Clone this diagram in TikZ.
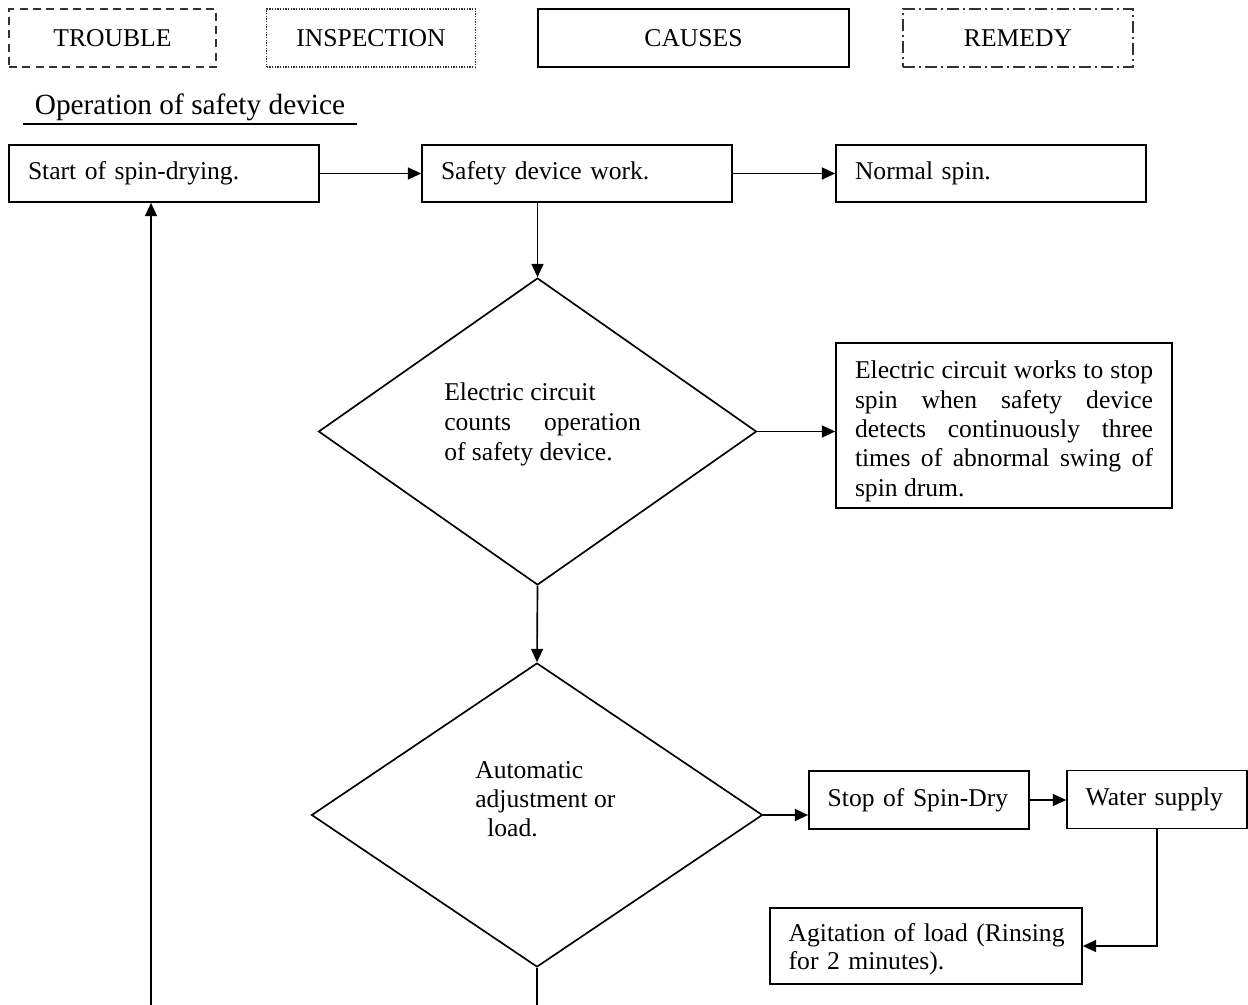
\documentclass[tikz,border=0pt]{standalone}
\usepackage{fontspec}
\setmainfont{Liberation Serif}
\usetikzlibrary{arrows.meta,shapes.geometric,calc}

\newcommand{\nohy}{\hyphenpenalty=10000\relax\exhyphenpenalty=10000\relax}

\begin{document}
\begin{tikzpicture}[x=0.75pt,y=0.75pt,yscale=-1,xscale=1,
  every node/.style={font=\fontsize{19.2}{22}\selectfont\nohy},
  box/.style={draw, line width=1.25pt, inner xsep=14.25pt, inner ysep=0pt, align=left, minimum height=42.75pt},
  legend/.style={line width=1.25pt, minimum height=43.5pt, inner sep=0pt},
  decision/.style={draw, diamond, line width=1.25pt, inner sep=0pt},
  arr/.style={line width=1.25pt, -{Triangle[length=10pt,width=9pt]}},
  plain/.style={line width=1.25pt}]
\useasboundingbox (0,0) rectangle (1248,1005);

% Legend
\node [legend, draw=black!80, dash pattern=on 6pt off 4pt, minimum width=155.25pt] (trouble) at (112.5,38) {TROUBLE};
\node [legend, draw=black!80, line width=0.9pt, dash pattern=on 1pt off 1pt, minimum width=156.75pt] (inspection) at (371,38) {INSPECTION};
\node [legend, draw, minimum width=233.25pt] (causes) at (693.5,38) {CAUSES};
\node [legend, draw=black!80, dash pattern=on 9pt off 3pt on 1.5pt off 3pt, minimum width=172.5pt] (remedy) at (1018,38) {REMEDY};

% Title
\node [font=\fontsize{22}{26}\selectfont, anchor=base, inner xsep=8.5pt] (title) at (190,115) {Operation of safety device};
\draw [plain] ($(title.base west)+(0,9)$) -- ($(title.base east)+(0,9)$);

% Top row
\node [box, text width=204pt] (start) at (164,173.5) {Start of spin-drying.};
\node [box, text width=204pt] (safety) at (577,173.5) {Safety device work.};
\node [box, text width=204pt] (normal) at (991,173.5) {Normal spin.};

% Decision 1
\node [decision, minimum width=328.5pt, minimum height=230.25pt] (count) at (537.5,431.5) {};
\node [anchor=north west, align=left, inner sep=0pt, font=\fontsize{19.2}{22.5}\selectfont] (counttext) at (444,382) {Electric circuit\\counts\hspace{24.75pt}operation\\of safety device.};
\node [box, align=justify, text width=223.5pt, minimum height=123.75pt] (elec) at (1004,425.5) {\rule{0pt}{22pt}Electric circuit works to stop\linebreak spin when safety device\linebreak detects continuously three\linebreak times of abnormal swing of\linebreak spin drum.};

% Decision 2
\node [decision, minimum width=338.25pt, minimum height=228pt] (adjust) at (537,815) {};
\node [anchor=north west, align=left, inner sep=0pt] (adjusttext) at (475,761) {Automatic\\adjustment or\\\hspace*{9pt}load.};
\node [box, inner xsep=14pt, text width=137pt, minimum height=43.5pt] (stopbox) at (919,800) {Stop of Spin-Dry};
\node [box, inner xsep=14pt, text width=107pt, minimum height=43.5pt] (water) at (1157,799.5) {Water supply};
\node [box, inner xsep=14pt, text width=206pt, minimum height=57pt, font=\fontsize{19.2}{21}\selectfont\nohy] (agit) at (926,946) {\rule{0pt}{18pt}\mbox{Agitation of load (Rinsing}\\for 2 minutes).};

% Connectors
\draw [arr] (start) -- (safety);
\draw [arr] (safety) -- (normal);
\draw [arr] (count.north |- safety.south) -- (count.north);
\draw [arr] (count.east) -- (count.east -| elec.west);
\draw [arr] (count.south) -- (adjust.north);
\draw [arr] (adjust.east) -- (adjust.east -| stopbox.west);
\draw [arr] (stopbox.east) -- (stopbox.east -| water.west);
\draw [arr] (water.south) |- (agit.east);
\coordinate (adjustend) at (537,1005);
\draw [plain] (adjust.south) -- (adjustend);
\coordinate (loopstart) at (151,1005);
\draw [arr] (loopstart) -- (loopstart |- start.south);

\end{tikzpicture}
\end{document}
